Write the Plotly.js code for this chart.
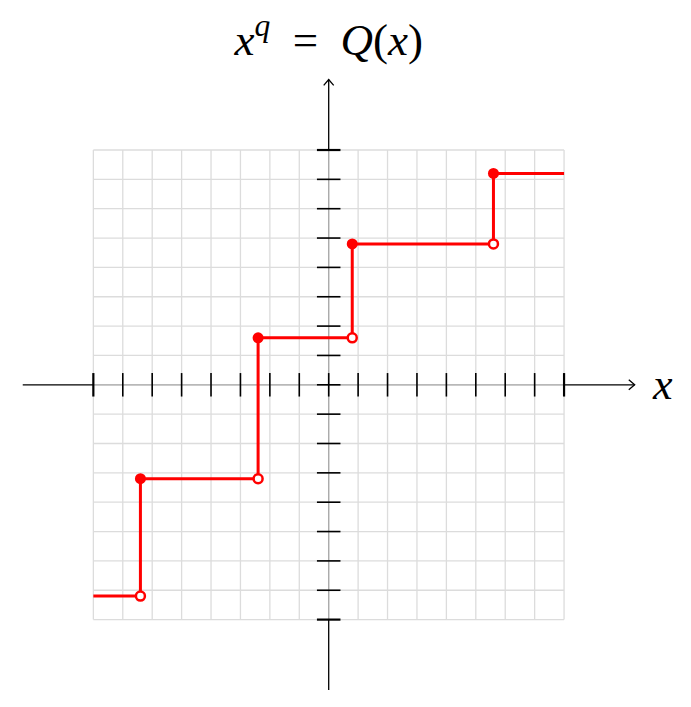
<!DOCTYPE html>
<html>
<head>
<meta charset="utf-8">
<script src="https://cdn.plot.ly/plotly-3.0.1.min.js"></script>
<style>html,body{margin:0;padding:0;background:#fff;}#chart{width:691px;height:707px;}</style>
</head>
<body>
<div id="chart"></div>
<script>
// Quantizer decision thresholds (x) and reconstruction levels (x^q)
const thresholds = [-8, -6.4, -2.4, 0.8, 5.6, 8];
const levels = [-7.2, -3.2, 1.6, 4.8, 7.2];
// Grid / tick positions
const gridTicks = [-8,-7,-6,-5,-4,-3,-2,-1,0,1,2,3,4,5,6,7,8];
const axisEnd = 10.4;

const RED = '#ff0000';

// Step line
const stepX = thresholds.slice();
const stepY = levels.concat([levels[levels.length - 1]]);

const inner = thresholds.slice(1, thresholds.length - 1);
const filledY = levels.slice(1);
const openY = levels.slice(0, levels.length - 1);

const traces = [
  {x: stepX, y: stepY, mode: 'lines', line: {shape: 'hv', color: RED, width: 3}, hoverinfo: 'skip'},
  {x: inner, y: filledY, mode: 'markers', marker: {symbol: 'circle', size: 11, color: RED}, hoverinfo: 'skip'},
  {x: inner, y: openY, mode: 'markers', marker: {symbol: 'circle', size: 9, color: '#ffffff', line: {color: RED, width: 2.5}}, hoverinfo: 'skip'}
];

const shapes = [];
const gmin = gridTicks[0], gmax = gridTicks[gridTicks.length - 1];
// grid
gridTicks.forEach(v => {
  shapes.push({type: 'line', layer: 'below', x0: v, x1: v, y0: gmin, y1: gmax, line: {color: '#dcdcdc', width: 1.3}});
  shapes.push({type: 'line', layer: 'below', x0: gmin, x1: gmax, y0: v, y1: v, line: {color: '#dcdcdc', width: 1.3}});
});
// axes: black outside the grid, grey inside
shapes.push({type: 'line', layer: 'below', x0: -axisEnd, x1: gmin, y0: 0, y1: 0, line: {color: '#000', width: 1.3}});
shapes.push({type: 'line', layer: 'below', x0: gmax, x1: axisEnd, y0: 0, y1: 0, line: {color: '#000', width: 1.3}});
shapes.push({type: 'line', layer: 'below', x0: gmin, x1: gmax, y0: 0, y1: 0, line: {color: '#a8a8a8', width: 1.3}});
shapes.push({type: 'line', layer: 'below', x0: 0, x1: 0, y0: -axisEnd, y1: gmin, line: {color: '#000', width: 1.3}});
shapes.push({type: 'line', layer: 'below', x0: 0, x1: 0, y0: gmax, y1: axisEnd, line: {color: '#000', width: 1.3}});
shapes.push({type: 'line', layer: 'below', x0: 0, x1: 0, y0: gmin, y1: gmax, line: {color: '#a8a8a8', width: 1.3}});
// ticks
const tl = 0.4;
gridTicks.forEach(v => {
  const w = (v === gmin || v === gmax) ? 2.2 : 1.6;
  shapes.push({type: 'line', layer: 'below', x0: v, x1: v, y0: -tl, y1: tl, line: {color: '#000', width: w}});
  shapes.push({type: 'line', layer: 'below', x0: -tl, x1: tl, y0: v, y1: v, line: {color: '#000', width: w}});
});
// arrow heads (chevrons)
const ab = 0.2, aw = 0.17;
shapes.push({type: 'path', layer: 'below', path: `M ${axisEnd - ab},${aw} L ${axisEnd},0 L ${axisEnd - ab},${-aw}`, line: {color: '#000', width: 1.3}});
shapes.push({type: 'path', layer: 'below', path: `M ${-aw},${axisEnd - ab} L 0,${axisEnd} L ${aw},${axisEnd - ab}`, line: {color: '#000', width: 1.3}});

const layout = {
  width: 691, height: 707,
  margin: {l: 0, r: 0, t: 0, b: 0},
  paper_bgcolor: '#ffffff', plot_bgcolor: '#ffffff',
  showlegend: false,
  xaxis: {range: [-11.173, 12.315], visible: false, fixedrange: true},
  yaxis: {range: [-10.978, 13.111], visible: false, fixedrange: true},
  title: {
    text: '<i>x</i><sup><i>q</i></sup>&nbsp; = &nbsp;<i>Q</i>(<i>x</i>)',
    font: {family: 'Liberation Serif, serif', size: 45, color: '#000'},
    x: 0.4757, xanchor: 'center', xref: 'paper',
    y: 0.945, yanchor: 'middle', yref: 'container'
  },
  shapes: shapes,
  annotations: [
    {x: 11.36, y: 0, xref: 'x', yref: 'y', text: '<i>x</i>', showarrow: false,
     font: {family: 'Liberation Serif, serif', size: 44, color: '#000'}, xanchor: 'center', yanchor: 'middle'}
  ]
};

Plotly.newPlot('chart', traces, layout, {displayModeBar: false, staticPlot: true});
</script>
</body>
</html>
